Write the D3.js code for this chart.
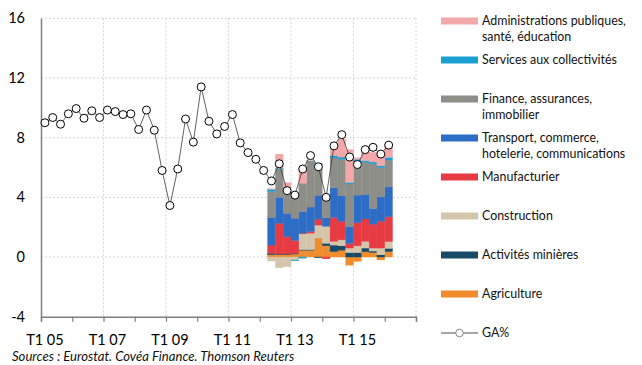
<!DOCTYPE html>
<html>
<head>
<meta charset="utf-8">
<script src="https://cdn.jsdelivr.net/npm/d3@7"></script>
<style>
  body { margin: 0; background: #fff; }
  svg { display: block; font-family: Lato, "Liberation Sans", sans-serif; }
</style>
</head>
<body>
<div id="chart"></div>
<script>
// ----------------------
// Data
// ----------------------
const years = d3.range(5, 17).map(y => String(y).padStart(2, "0"));
const quarters = years.flatMap(y => [1, 2, 3, 4].map(q => `T${q} ${y}`));

// GA% line, T1 05 .. T1 16
const gaValues = [
  9.0, 9.35, 8.9, 9.6, 9.95, 9.3, 9.8, 9.35, 9.85, 9.75, 9.55, 9.6,
  8.55, 9.85, 8.5, 5.8, 3.45, 5.9, 9.25, 7.7, 11.4, 9.1, 8.25, 8.75,
  9.55, 7.65, 7.0, 6.55, 5.8, 5.1, 6.25, 4.45, 4.15, 5.9, 6.8, 6.05,
  4.0, 7.45, 8.2, 6.7, 6.2, 7.2, 7.35, 6.9, 7.5
];

// stacked contributions, T2 12 .. T1 16
const barQuarters = quarters.slice(29, 45);
const agriculture   = [0.15, 0.15, 0.15, 0.2, 0.45, 0.45, 1.27, 0.75, 0.36, 0.45, -0.55, -0.3, 0.35, 0.3, -0.2, 0.36];
const mines         = [0.1, 0.05, 0.05, 0.05, 0.05, 0.05, -0.05, 0.17, 0.44, 0.3, 0.3, 0.3, 0.25, 0.1, 0.15, 0.22];
const construction  = [-0.27, -0.72, -0.65, -0.2, 1.05, 1.1, 0.87, 1.13, 0.25, 0.4, 0.3, 0.45, 0.45, 0.2, 0.45, 0.45];
const manufacturier = [0.55, 2.06, 1.16, 0.85, 0.05, 0.1, 0.4, -0.12, 1.6, 1.25, 0.3, 1.55, 1.5, 1.6, 1.8, 1.67];
const transport     = [1.86, 1.74, 1.57, 1.5, 1.45, 1.65, 1.6, 0.6, 2.0, 1.7, 1.15, 1.85, 1.65, 1.05, 1.65, 2.0];
const finance       = [1.72, 1.88, 1.74, 1.7, 1.9, 3.1, 2.1, 1.5, 2.0, 2.45, 2.85, 2.25, 2.15, 3.0, 1.95, 1.8];
const services      = [0.16, 0.07, 0.0, -0.05, -0.08, 0.0, 0.05, 0.0, 0.15, 0.15, 0.1, 0.15, 0.1, 0.12, 0.12, 0.18];
const administrations = [0.05, 0.95, 0.31, 0.0, 0.95, 0.0, 0.0, 0.0, 0.6, 1.2, 2.2, 0.1, 0.6, 0.65, 0.78, 0.8];

const seriesKeys = ["agriculture", "mines", "construction", "manufacturier",
                    "transport", "finance", "services", "administrations"];
const seriesData = { agriculture, mines, construction, manufacturier,
                     transport, finance, services, administrations };
const seriesColors = {
  agriculture: "#f08c2c", mines: "#174a66", construction: "#d5c5aa",
  manufacturier: "#e63b42", transport: "#2e6dc6", finance: "#8e8e89",
  services: "#1a9fd0", administrations: "#f2a7a8"
};

const yTicks = [-4, 0, 4, 8, 12, 16];
const xLabels = ["T1 05", "T1 07", "T1 09", "T1 11", "T1 13", "T1 15"];

const legendItems = [
  { key: "administrations", lines: ["Administrations publiques,", "santé, éducation"] },
  { key: "services", lines: ["Services aux collectivités"] },
  { key: "finance", lines: ["Finance, assurances,", "immobilier"] },
  { key: "transport", lines: ["Transport, commerce,", "hotelerie, communications"] },
  { key: "manufacturier", lines: ["Manufacturier"] },
  { key: "construction", lines: ["Construction"] },
  { key: "mines", lines: ["Activités minières"] },
  { key: "agriculture", lines: ["Agriculture"] },
  { key: "ga", lines: ["GA%"] }
];

// ----------------------
// Setup
// ----------------------
const W = 642, H = 365;
const plot = { left: 41, right: 416, top: 18.3, bottom: 316.7 };

const svg = d3.select("#chart").append("svg")
    .attr("width", W)
    .attr("height", H);

const x = d3.scaleBand().domain(quarters).range([plot.left, plot.right]).padding(0);
const yearScale = d3.scaleLinear().domain([2005, 2017]).range([plot.left, plot.right]);
const y = d3.scaleLinear().domain([-4, 16]).range([plot.bottom, plot.top]);

// ----------------------
// Grid
// ----------------------
svg.append("g")
    .selectAll("line.h")
    .data(yTicks.filter(d => d > -4))
    .join("line")
    .attr("x1", plot.left).attr("x2", plot.right)
    .attr("y1", d => y(d)).attr("y2", d => y(d))
    .attr("stroke", "#d4d4d4")
    .attr("stroke-dasharray", "2,2");

svg.append("g")
    .selectAll("line.v")
    .data(d3.range(2007, 2018, 2))
    .join("line")
    .attr("x1", d => yearScale(d)).attr("x2", d => yearScale(d))
    .attr("y1", plot.top).attr("y2", plot.bottom)
    .attr("stroke", "#d4d4d4")
    .attr("stroke-dasharray", "2,2");

// ----------------------
// Stacked bars
// ----------------------
const rows = barQuarters.map((q, i) => {
  const r = { q };
  seriesKeys.forEach(k => r[k] = seriesData[k][i]);
  return r;
});

const stacked = d3.stack()
    .keys(seriesKeys)
    .offset(d3.stackOffsetDiverging)(rows);

svg.append("g")
    .selectAll("g")
    .data(stacked)
    .join("g")
    .attr("fill", d => seriesColors[d.key])
    .attr("stroke", d => seriesColors[d.key])
    .attr("stroke-width", 0.3)
    .selectAll("rect")
    .data(d => d)
    .join("rect")
    .attr("x", d => x(d.data.q))
    .attr("width", x.bandwidth())
    .attr("y", d => y(Math.max(d[0], d[1])))
    .attr("height", d => Math.abs(y(d[0]) - y(d[1])));

// ----------------------
// Axes
// ----------------------
const yAxis = svg.append("g")
    .attr("transform", `translate(${plot.left},0)`)
    .call(d3.axisLeft(y).tickValues(yTicks).tickFormat(d => String(d)).tickSize(0).tickPadding(16));
yAxis.select(".domain").attr("stroke", "#7f7f7f").attr("stroke-width", 1.5);
yAxis.selectAll("text")
    .attr("font-size", 14.5)
    .attr("font-family", "Lato, sans-serif")
    .attr("fill", "#000");

const xTicks = svg.append("g")
    .attr("transform", `translate(0,${plot.bottom})`)
    .call(d3.axisBottom(yearScale).ticks(12).tickFormat("").tickSize(5).tickSizeOuter(5));
xTicks.select(".domain").attr("stroke", "#7f7f7f").attr("stroke-width", 1.5);
xTicks.selectAll(".tick line").attr("stroke", "#7f7f7f").attr("stroke-width", 1.2);

const xAxis = svg.append("g")
    .attr("transform", `translate(0,${plot.bottom})`)
    .call(d3.axisBottom(x).tickValues(xLabels).tickSize(0).tickPadding(18));
xAxis.select(".domain").remove();
xAxis.selectAll("text")
    .attr("font-size", 14.5)
    .attr("font-family", "Lato, sans-serif")
    .attr("fill", "#000");

// ----------------------
// GA% line
// ----------------------
const gaPoints = gaValues.map((v, i) => ({ q: quarters[i], v }));
const cx = d => x(d.q) + x.bandwidth() / 2;

svg.append("path")
    .datum(gaPoints)
    .attr("fill", "none")
    .attr("stroke", "#3a3a3a")
    .attr("stroke-width", 0.8)
    .attr("d", d3.line().x(cx).y(d => y(d.v)));

svg.append("g")
    .selectAll("circle")
    .data(gaPoints)
    .join("circle")
    .attr("cx", cx)
    .attr("cy", d => y(d.v))
    .attr("r", 4)
    .attr("fill", "#fff")
    .attr("stroke", "#000")
    .attr("stroke-width", 1);

// ----------------------
// Legend
// ----------------------
const legend = svg.append("g").attr("transform", "translate(441,0)");
const item = legend.selectAll("g")
    .data(legendItems)
    .join("g")
    .attr("transform", (d, i) => `translate(0,${21 + i * 39})`);

item.filter(d => d.key !== "ga")
    .append("rect")
    .attr("x", 0).attr("y", -3.5)
    .attr("width", 37).attr("height", 7)
    .attr("fill", d => seriesColors[d.key]);

const gaItem = item.filter(d => d.key === "ga");
gaItem.append("line")
    .attr("x1", 0).attr("x2", 37).attr("y1", 0).attr("y2", 0)
    .attr("stroke", "#8a8a8a").attr("stroke-width", 1.5);
gaItem.append("circle")
    .attr("cx", 18.5).attr("cy", 0).attr("r", 3.8)
    .attr("fill", "#fff").attr("stroke", "#8a8a8a").attr("stroke-width", 1);

item.append("text")
    .attr("x", 41)
    .attr("font-size", 12.4)
    .attr("fill", "#111")
    .selectAll("tspan")
    .data(d => d.lines)
    .join("tspan")
    .attr("x", 41)
    .attr("y", (d, i) => i * 16)
    .attr("dy", "0.35em")
    .text(d => d);

// ----------------------
// Source
// ----------------------
svg.append("text")
    .attr("x", 12)
    .attr("y", 361)
    .attr("font-size", 13.1)
    .attr("font-style", "italic")
    .attr("fill", "#111")
    .text("Sources : Eurostat. Covéa Finance. Thomson Reuters");
</script>
</body>
</html>
